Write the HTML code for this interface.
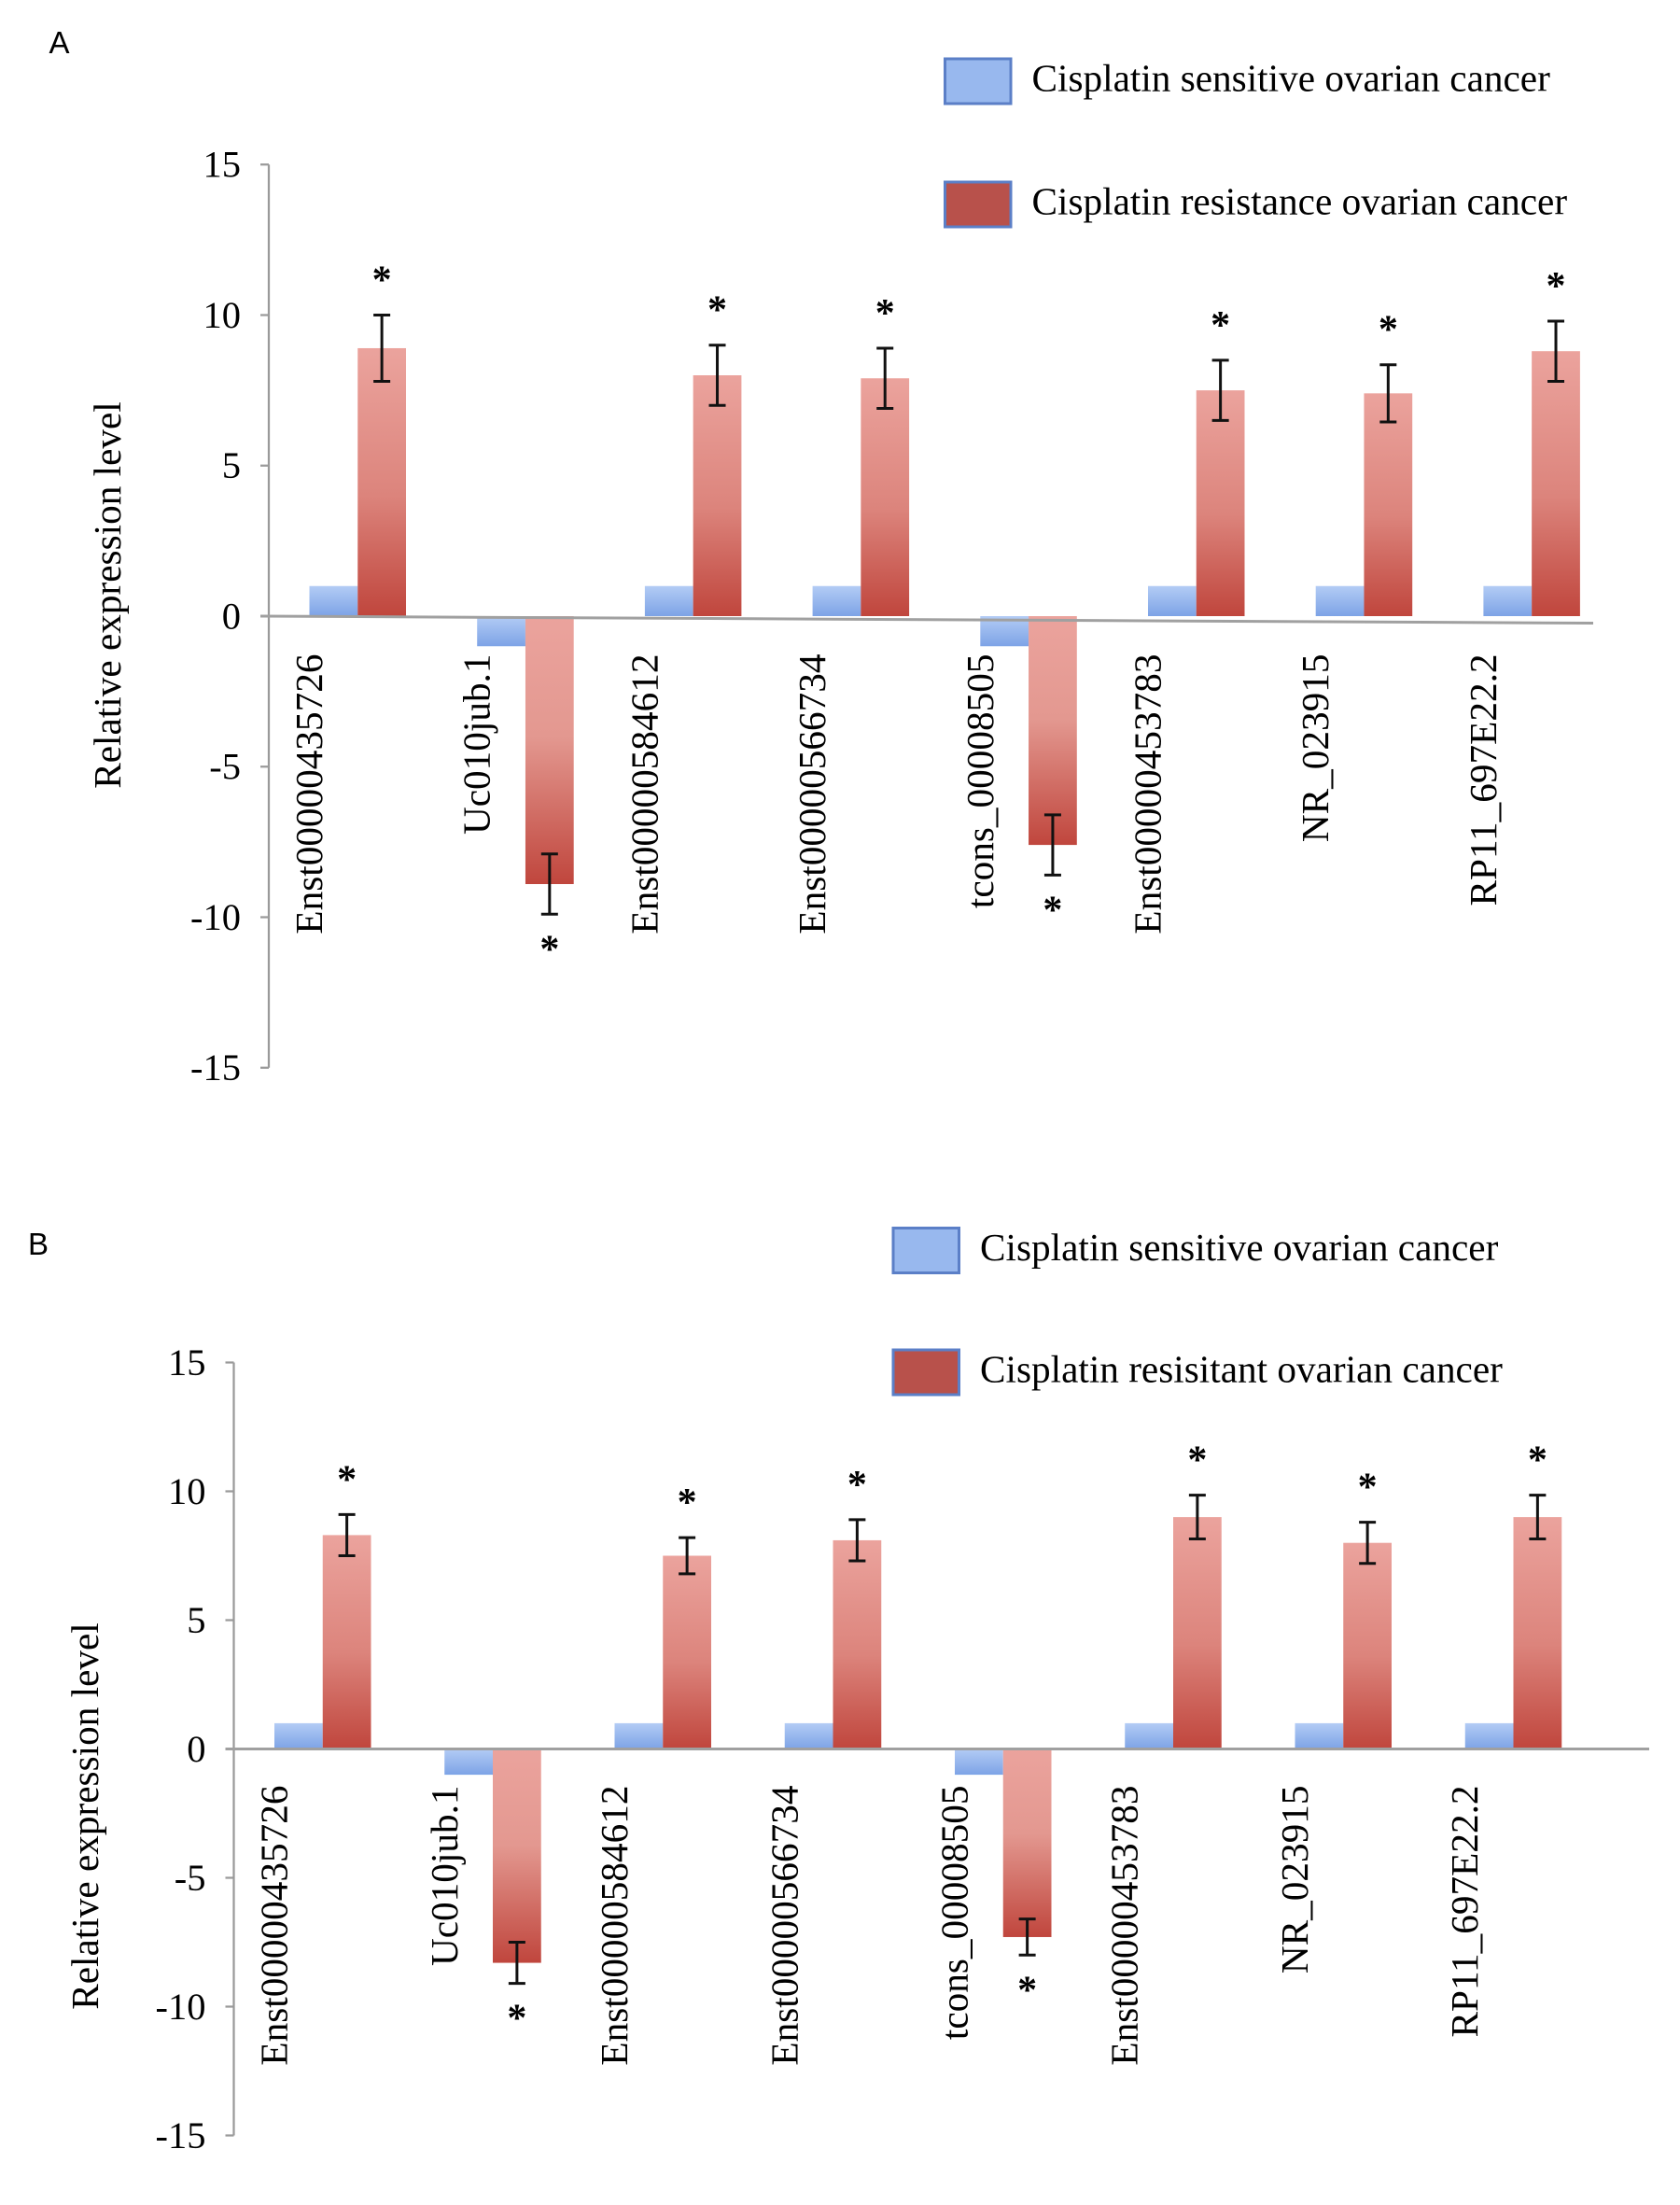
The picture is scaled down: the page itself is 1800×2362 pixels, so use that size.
<!DOCTYPE html>
<html><head><meta charset="utf-8"><style>
html,body{margin:0;padding:0;background:#fff;}
svg{display:block;font-family:"Liberation Serif",serif;}
</style></head><body>
<svg id="fig" width="1800" height="2362" viewBox="0 0 1200 1574.67" xmlns="http://www.w3.org/2000/svg">
<defs>
<linearGradient id="gRed" x1="0" y1="0" x2="0" y2="1"><stop offset="0" stop-color="#eba39d"/><stop offset="0.55" stop-color="#dc847c"/><stop offset="1" stop-color="#c0463d"/></linearGradient>
<linearGradient id="gRedN" x1="0" y1="0" x2="0" y2="1"><stop offset="0" stop-color="#eba39d"/><stop offset="0.45" stop-color="#e39890"/><stop offset="1" stop-color="#c0463d"/></linearGradient>
<linearGradient id="gBlue" x1="0" y1="0" x2="0" y2="1"><stop offset="0" stop-color="#b3ccf5"/><stop offset="1" stop-color="#7da3e6"/></linearGradient>
</defs>
</svg>
<script>
const categories = ["Enst00000435726","Uc010jub.1","Enst00000584612","Enst00000566734","tcons_00008505","Enst00000453783","NR_023915","RP11_697E22.2"];
const yTicks = [15,10,5,0,-5,-10,-15];
const sensitiveA = [1,-1,1,1,-1,1,1,1];
const resistantA = [8.9,-8.9,8.0,7.9,-7.6,7.5,7.4,8.8];
const errorA = [1.1,1.0,1.0,1.0,1.0,1.0,0.95,1.0];
const sensitiveB = [1,-1,1,1,-1,1,1,1];
const resistantB = [8.3,-8.3,7.5,8.1,-7.3,9.0,8.0,9.0];
const errorB = [0.8,0.8,0.7,0.8,0.7,0.85,0.8,0.85];
const legendA = ["Cisplatin sensitive ovarian cancer","Cisplatin resistance ovarian cancer"];
const legendB = ["Cisplatin sensitive ovarian cancer","Cisplatin resisitant ovarian cancer"];

const NS="http://www.w3.org/2000/svg";
const svg=document.getElementById('fig');
function mk(tag,attrs,parent,text){const e=document.createElementNS(NS,tag);for(const k in attrs)e.setAttribute(k,attrs[k]);if(text!==undefined)e.textContent=text;(parent||svg).appendChild(e);return e;}

function panel(cfg){
  const g=mk('g',{});
  
  
  const y=v=>cfg.y0-v*cfg.unit;
  const xg=i=>cfg.x0+i*cfg.step;
  const pl=mk('text',{x:cfg.letterX,y:cfg.letterY,'font-family':'Liberation Sans, sans-serif','font-size':22},g,cfg.letter);
  
  
  const ax=mk('line',{x1:cfg.axisX,x2:cfg.axisX,y1:y(15),y2:y(-15),stroke:'#9a9a9a','stroke-width':1.5},g);
  
  
  yTicks.forEach(t=>{
    const tk=mk('line',{x1:cfg.axisX-6,x2:cfg.axisX,y1:y(t),y2:y(t),stroke:'#9a9a9a','stroke-width':1.5},g);
    
    
    const tl=mk('text',{x:cfg.axisX-20,y:y(t)+9,'text-anchor':'end','font-size':27},g,String(t));
    
    
  });
  const yt=mk('text',{x:0,y:0,'text-anchor':'middle','font-size':27.5,transform:`translate(${cfg.titleX},${cfg.titleY}) rotate(-90)`},g,'Relative expression level');
  
  
  categories.forEach((c,i)=>{
    const bx=xg(i);
    const sv=cfg.sens[i], rv=cfg.res[i], ev=cfg.err[i];
    const b=mk('rect',{x:bx,y:Math.min(y(0),y(sv)),width:cfg.bw,height:Math.abs(y(sv)-y(0)),fill:'url(#gBlue)'},g);
    
    
    const rx=bx+cfg.bw;
    const r=mk('rect',{x:rx,y:Math.min(y(0),y(rv)),width:cfg.bw,height:Math.abs(y(rv)-y(0)),fill:rv>=0?'url(#gRed)':'url(#gRedN)'},g);
    
    
    const cx=rx+cfg.bw/2;
    const e1=y(rv+ev), e2=y(rv-ev);
    const eb=mk('path',{d:`M${cx},${e1}V${e2}M${cx-6},${e1}H${cx+6}M${cx-6},${e2}H${cx+6}`,stroke:'#111','stroke-width':2,fill:'none'},g);
    
    
    const sy=rv>=0?e1-16:e2+34;
    const st=mk('text',{x:cx,y:sy,'text-anchor':'middle','font-size':28,'font-weight':'bold'},g,'*');
    
    
    const lb=mk('text',{x:0,y:0,'text-anchor':'end','font-size':27.5,transform:`translate(${bx+9},${cfg.labelEnd}) rotate(-90)`},g,c);
    
    
  });
  const zl=mk('line',{x1:cfg.axisX-6,x2:cfg.zeroEnd,y1:y(0),y2:y(0)+cfg.slope,stroke:'#a0a0a0','stroke-width':2},g);
  
  
  [['url(#gBlue)',cfg.legY[0],cfg.legend[0]],['#b8514b',cfg.legY[1],cfg.legend[1]]].forEach((L,k)=>{
    const bx=mk('rect',{x:cfg.legX,y:L[1],width:47,height:32,fill:k===0?'#98b8ee':'#b8514b',stroke:'#5b7fc7','stroke-width':2},g);
    
    
    const t=mk('text',{x:cfg.legX+62,y:L[1]+23,'font-size':27.5},g,L[2]);
    
    
  });
}

panel({name:'panel-a',letter:'A',letterX:35,letterY:38,axisX:192,y0:440,unit:21.5,x0:221,step:119.8,bw:34.5,
  sens:sensitiveA,res:resistantA,err:errorA,labelEnd:467,zeroEnd:1138,slope:5,titleX:86,titleY:425,
  legX:675,legY:[42,130],legend:legendA});
panel({name:'panel-b',letter:'B',letterX:20,letterY:896,axisX:167,y0:1249,unit:18.4,x0:196,step:121.5,bw:34.5,
  sens:sensitiveB,res:resistantB,err:errorB,labelEnd:1275,zeroEnd:1178,slope:0,titleX:70,titleY:1297,
  legX:638,legY:[877,964],legend:legendB});
</script>
</body></html>
